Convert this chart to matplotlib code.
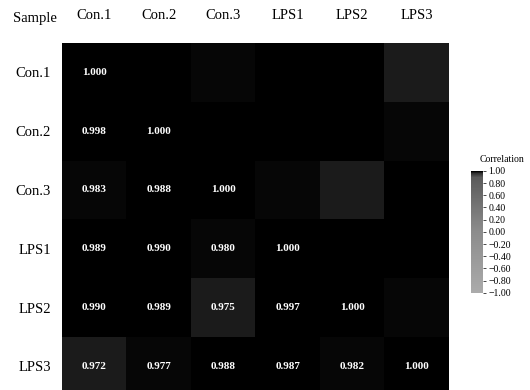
import numpy as np
import matplotlib
matplotlib.use("Agg")
import matplotlib.pyplot as plt
from matplotlib.colors import LinearSegmentedColormap, Normalize
import matplotlib.cm as cm

# Data
samples = ["Con.1", "Con.2", "Con.3", "LPS1", "LPS2", "LPS3"]
lower = [
    [1.000],
    [0.998, 1.000],
    [0.983, 0.988, 1.000],
    [0.989, 0.990, 0.980, 1.000],
    [0.990, 0.989, 0.975, 0.997, 1.000],
    [0.972, 0.977, 0.988, 0.987, 0.982, 1.000],
]
cbar_ticks = [1.0, 0.8, 0.6, 0.4, 0.2, 0.0, -0.2, -0.4, -0.6, -0.8, -1.0]

n = len(samples)
corr = np.zeros((n, n))
for i, row in enumerate(lower):
    for j, v in enumerate(row):
        corr[i, j] = v
        corr[j, i] = v

plt.rcParams['font.family'] = ['Liberation Serif', 'DejaVu Serif']

# grey map: near-black for very high correlations, lighter grey further down
cmap = LinearSegmentedColormap.from_list("scan_grey", [
    (0.0, "#ababab"),
    (0.5, "#8c8c8c"),
    (0.95, "#5a5a5a"),
    (0.985, "#2c2c2c"),
    (0.9935, "#000000"),
    (1.0, "#000000"),
])
norm = Normalize(vmin=-1, vmax=1)

fig = plt.figure(figsize=(5.3, 3.9), dpi=100)
ax = fig.add_axes([0.117, -0.015, 0.730, 0.905])
ax.imshow(corr, cmap=cmap, norm=norm, aspect="auto")

for i, row in enumerate(lower):
    for j, v in enumerate(row):
        ax.text(j, i, f"{v:.3f}", ha="center", va="center", color="white",
                fontsize=8, fontweight="bold")

ax.set_xticks(range(n))
ax.set_xticklabels(samples, fontsize=10.5)
ax.xaxis.tick_top()
ax.set_yticks(range(n))
ax.set_yticklabels(samples, fontsize=10.5)
ax.tick_params(axis="x", length=0, pad=15)
ax.tick_params(axis="y", length=0, pad=8)
for s in ax.spines.values():
    s.set_visible(False)

fig.text(0.066, 0.952, "Sample", fontsize=10.5, ha="center", va="center")

# colorbar
cax = fig.add_axes([0.889, 0.249, 0.022, 0.313])
cb = fig.colorbar(cm.ScalarMappable(norm=norm, cmap=cmap), cax=cax, ticks=cbar_ticks)
cb.ax.set_yticklabels([f"{t:.2f}".replace("-", "\u2212") for t in cbar_ticks], fontsize=7)
cb.ax.tick_params(length=2, width=0.5, pad=2)
cb.outline.set_visible(False)
fig.text(0.948, 0.59, "Correlation", fontsize=7, ha="center", va="center")

plt.savefig("out.png", dpi=100)
plt.close()
